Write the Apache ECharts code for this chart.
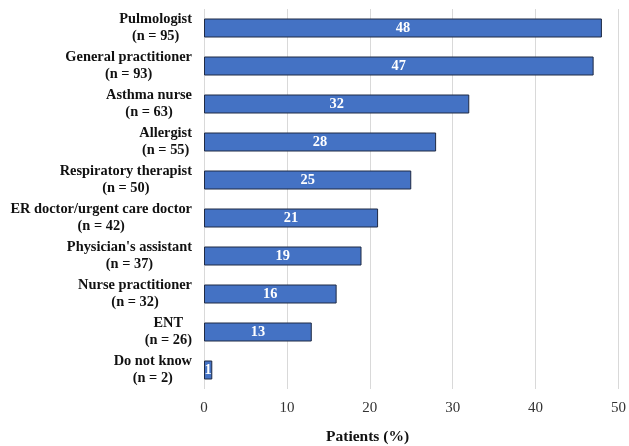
<!DOCTYPE html>
<html>
<head>
<meta charset="utf-8">
<script src="https://cdn.jsdelivr.net/npm/echarts@6/dist/echarts.min.js"></script>
<style>
  html, body { margin: 0; padding: 0; background: #fff; }
  #main { width: 629px; height: 446px; }
</style>
</head>
<body>
<div id="main"></div>
<script>
// categories top to bottom
var categories = [
  'Pulmologist\n(n = 95)',
  'General practitioner\n(n = 93)',
  'Asthma nurse\n(n = 63)',
  'Allergist\n(n = 55)',
  'Respiratory therapist\n(n = 50)',
  'ER doctor/urgent care doctor\n(n = 42)',
  "Physician's assistant\n(n = 37)",
  'Nurse practitioner\n(n = 32)',
  'ENT\n(n = 26)',
  'Do not know\n(n = 2)'
];
var values = [48, 47, 32, 28, 25, 21, 19, 16, 13, 1];
var xTicks = [0, 10, 20, 30, 40, 50];

var serif = '"Liberation Serif", "DejaVu Serif", serif';

var chart = echarts.init(document.getElementById('main'));

var option = {
  animation: false,
  grid: { left: 204, right: 9, top: 9, bottom: 57, containLabel: false },
  xAxis: {
    type: 'value',
    min: xTicks[0],
    max: xTicks[xTicks.length - 1],
    interval: 10,
    axisLine: { show: false },
    axisTick: { show: false },
    axisLabel: { fontFamily: serif, fontSize: 15, color: '#333', margin: 12 },
    splitLine: { show: true, lineStyle: { color: '#d9d9d9', width: 1 } }
  },
  yAxis: {
    type: 'category',
    inverse: true,
    data: categories,
    axisLine: { show: false },
    axisTick: { show: false },
    axisLabel: {
      align: 'right',
      margin: 12,
      // each line centred inside the label block
      formatter: function (v) {
        return v.split('\n').map(function (l) { return '{c|' + l + '}'; }).join('\n');
      },
      rich: {
        c: {
          align: 'center', fontFamily: serif, fontSize: 14.4, fontWeight: 'bold',
          color: '#111', lineHeight: 17
        }
      }
    }
  },
  graphic: [{
    type: 'text',
    left: 326,
    top: 429,
    style: { text: 'Patients (%)', font: 'bold 15.5px ' + serif, fill: '#111' }
  }],
  series: [{
    type: 'bar',
    data: values,
    barWidth: '50%',
    itemStyle: { color: '#4472C4', borderColor: '#1f2a44', borderWidth: 1 },
    label: {
      show: true, position: 'inside',
      fontFamily: serif, fontSize: 14.4, fontWeight: 'bold', color: '#fff'
    }
  }]
};

chart.setOption(option);
</script>
</body>
</html>
